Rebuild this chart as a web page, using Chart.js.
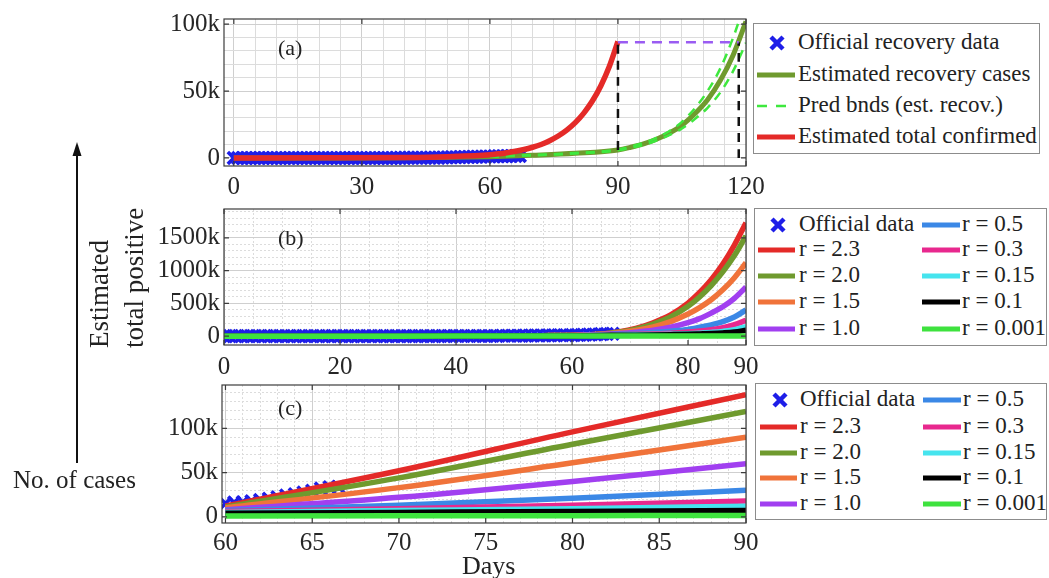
<!DOCTYPE html>
<html>
<head>
<meta charset="utf-8">
<script src="https://cdn.jsdelivr.net/npm/chart.js@4.4.0/dist/chart.umd.min.js"></script>
<style>
  body { margin: 0; background: #fff; width: 1049px; height: 578px; overflow: hidden; position: relative;
         font-family: "Liberation Serif", "Times New Roman", serif; color: #222; }
  canvas { position: absolute; left: 0; }
  .lg { position: absolute; border: 1px solid #8c8c8c; background: #fff; box-sizing: border-box; }
  .txt { position: absolute; white-space: nowrap; line-height: 24px; font-size: 23px; }
  .sw { position: absolute; }
</style>
</head>
<body>
<canvas id="cA"></canvas>
<canvas id="cB"></canvas>
<canvas id="cC"></canvas>
<div id="overlay"></div>
<script>
// ---- panel (a): recovery ----
const aRecovered = [0,0,0,0,0,0,0,0,0,0,0,0,0,0,0,0,0,0,0,0,0,0,0,0,0,0,
  3,3,4,4,10,13,14,20,23,25,40,43,50,75,85,95,102,124,148,169,191,229,267,328,
  401,473,565,653,700,760,820,880,950,1020,1100,1180,1250,1320,1400,1450,1480,1500];
const aConfDays = [0, 20, 40, 50, 60, 62, 64, 66, 68, 70, 72, 74, 76, 78, 80, 82, 84, 86, 88, 90];
const aConfirmed = [0, 100, 400, 1000, 2400, 3100, 3900, 5000, 6300, 8000, 10100, 12900, 16400, 20800,
  26400, 33500, 42500, 54000, 68500, 87000];
const aRecDays = [0, 20, 40, 60, 65, 70, 80, 90, 93, 96, 99, 102, 105, 108, 111, 114, 117, 120];
const aRecEst = [0, 50, 200, 1000, 1400, 2000, 3500, 6000, 8000, 10500, 14000, 18500, 24500, 33000,
  43500, 58000, 77000, 102000];
const aBndDays = [60, 80, 90, 93, 96, 99, 102, 105, 108, 111, 114, 117, 120];
const aBndUpper = [1100, 3700, 6300, 8500, 11200, 15000, 20000, 27000, 37000, 50000, 67000, 90000, 118000];
const aBndLower = [900, 3300, 5700, 7500, 9800, 13000, 17000, 22000, 29000, 37500, 49000, 65000, 86000];
const aLevel = 86500;          // height of the dashed guide lines
const aGuideDays = [90, 118.3]; // days marked by the vertical guides
const aXLabels = [0, 30, 60, 90, 120];
const aYLabels = [0, 50000, 100000];

// ---- panel (b): total positive, whole period ----
const bOfficial = [3,3,3,3,3,3,3,3,3,3,3,3,3,5,6,28,30,31,34,39,43,56,62,73,82,102,113,119,142,156,
  194,244,330,396,499,536,657,727,887,987,1024,1251,1397,1998,2543,2567,3082,3588,4778,5311,
  5916,6725,7598,8446,9205,10453,11487,12322,13430,14352,15500,17000,19500,23000,26500,31000,33500,36000];
const bDays = [0, 20, 40, 55, 60, 65, 68, 71, 74, 77, 80, 82, 84, 86, 88, 90];
const bR23 = [0, 100, 1000, 8000, 12000, 32000, 64000, 118000, 205000, 325000, 505000, 665000, 860000, 1100000, 1390000, 1730000];
const bR20 = [0, 100, 1000, 8000, 11000, 30000, 59000, 108000, 185000, 293000, 455000, 598000, 772000, 980000, 1230000, 1530000];
const bR15 = [0, 100, 1000, 8000, 10000, 28000, 52000, 87000, 141000, 222000, 337000, 435000, 555000, 707000, 892000, 1120000];
const bR10 = [0, 100, 1000, 7000, 8000, 24000, 39000, 60000, 89000, 135000, 205000, 268000, 352000, 448000, 576000, 750000];
const bR05 = [0, 100, 900, 6000, 7000, 19000, 28000, 39000, 54000, 76000, 103000, 135000, 173000, 222000, 292000, 400000];
const bR03 = [0, 100, 800, 5000, 6000, 16000, 22000, 28000, 36000, 46000, 63000, 78000, 100000, 130000, 174000, 240000];
const bR015 = [0, 100, 700, 4000, 5000, 13000, 16000, 19500, 24000, 29000, 38000, 46000, 57000, 72000, 97000, 145000];
const bR01 = [0, 100, 600, 3000, 4000, 11000, 13000, 15000, 18500, 23000, 28500, 34000, 40000, 49000, 63000, 90000];
const bR0001 = [0, 100, 500, 1000, 1000, 1000, 1000, 1000, 1000, 1000, 1000, 1000, 1000, 1000, 1000, 1000];
const bXLabels = [0, 20, 40, 60, 80, 90];
const bYLabels = [0, 500000, 1000000, 1500000];

// ---- panel (c): zoom on days 60-90 ----
const cOffDays = [60, 60.5, 61, 61.5, 62, 62.5, 63, 63.5, 64, 64.5, 65, 65.5, 66, 66.5];
const cOfficial = [15000, 16000, 16500, 17500, 19000, 20500, 22000, 24000, 25500, 27500, 29500, 32000, 33500, 34000];
const cDays = [60, 70, 80, 90];
const cR23 = [12000, 52000, 96000, 138000];
const cR20 = [11000, 44000, 82000, 119000];
const cR15 = [10000, 33000, 61000, 90000];
const cR10 = [8000, 22000, 40000, 60000];
const cR05 = [7000, 13000, 21000, 30000];
const cR03 = [6000, 9000, 13000, 18000];
const cR015 = [5000, 7000, 9000, 12000];
const cR01 = [4000, 5000, 6000, 7000];
const cR0001 = [1000, 1200, 1300, 1500];
const cXLabels = [60, 65, 70, 75, 80, 85, 90];
const cYLabels = [0, 50000, 100000];

const rLabels = ['r = 2.3', 'r = 2.0', 'r = 1.5', 'r = 1.0', 'r = 0.5', 'r = 0.3', 'r = 0.15', 'r = 0.1', 'r = 0.001'];
const rColors = ['#e42a28', '#6f9a2e', '#f0733a', '#a13ff0', '#3b88e6', '#e8288e', '#46e4ee', '#000000', '#3ee23e'];

const BLUE = '#1e1ee8';
const FONT = '"Liberation Serif", "Times New Roman", serif';
Chart.defaults.font.family = FONT;
Chart.defaults.color = '#262626';

const range = (a, b, s) => { const r = []; for (let v = a; v <= b + 1e-9; v += s) r.push(+v.toFixed(3)); return r; };
const pts = (xs, ys) => xs.map((x, i) => ({ x: x, y: ys[i] }));
const fmtK = v => v === 0 ? '0' : (v / 1000) + 'k';

function markers(data) {
  return { data, showLine: false, pointStyle: 'crossRot', pointRadius: 8.5, pointBorderWidth: 3.6,
           borderColor: BLUE, backgroundColor: BLUE };
}
function curve(data, color, width, dash) {
  return { data, borderColor: color, borderWidth: width || 5, pointRadius: 0, borderDash: dash || [],
           cubicInterpolationMode: 'monotone', fill: false };
}

// frame + inward tick marks, MATLAB style
const boxPlugin = {
  id: 'box',
  afterDatasetsDraw(chart) {
    const { ctx, chartArea: a, scales } = chart;
    ctx.save();
    ctx.strokeStyle = '#3c3c3c';
    ctx.lineWidth = 1.2;
    ctx.strokeRect(a.left, a.top, a.right - a.left, a.bottom - a.top);
    ctx.beginPath();
    scales.x.ticks.forEach((t, i) => {
      if (!t.label) return;
      const px = scales.x.getPixelForTick(i);
      ctx.moveTo(px, a.bottom); ctx.lineTo(px, a.bottom - 5);
      ctx.moveTo(px, a.top); ctx.lineTo(px, a.top + 5);
    });
    scales.y.ticks.forEach((t, i) => {
      if (!t.label) return;
      const py = scales.y.getPixelForTick(i);
      ctx.moveTo(a.left, py); ctx.lineTo(a.left + 5, py);
      ctx.moveTo(a.right, py); ctx.lineTo(a.right - 5, py);
    });
    ctx.stroke();
    ctx.restore();
  }
};

const AXW = 70;
function panel(id, canvasTop, canvasH, area, xs, ys, datasets, dotted) {
  const cv = document.getElementById(id);
  cv.width = 1049; cv.height = canvasH;
  cv.style.top = canvasTop + 'px';
  datasets.forEach((d, i) => { d.order = datasets.length - i; });
  const gridOf = (labels) => ({
    color: ctx => (ctx.tick && labels.includes(ctx.tick.value)) ? '#cfcfcf' : '#dcdcdc',
    lineWidth: 1, drawTicks: false
  });
  const borderOf = (labels) => ({
    display: false,
    dash: ctx => (dotted && !(ctx.tick && labels.includes(ctx.tick.value))) ? [2, 2] : []
  });
  return new Chart(cv, {
    type: 'line',
    data: { datasets },
    options: {
      responsive: false, animation: false,
      layout: { padding: { left: area.left - AXW, right: 1049 - area.right, top: area.top - canvasTop, bottom: 0 } },
      plugins: { legend: { display: false }, tooltip: { enabled: false } },
      scales: {
        x: {
          type: 'linear', min: xs.min, max: xs.max,
          afterBuildTicks: s => { s.ticks = xs.grid.map(v => ({ value: v })); },
          afterFit: s => { s.height = canvasTop + canvasH - area.bottom; },
          ticks: { autoSkip: false, maxRotation: 0, padding: area.pad || 5, font: { size: 25 },
                   callback: v => xs.labels.includes(v) ? String(v) : '' },
          grid: gridOf(xs.labels), border: borderOf(xs.labels)
        },
        y: {
          type: 'linear', min: ys.min, max: ys.max,
          afterBuildTicks: s => { s.ticks = ys.grid.map(v => ({ value: v })); },
          afterFit: s => { s.width = AXW; },
          ticks: { autoSkip: false, padding: 4, font: { size: 25 },
                   callback: v => ys.labels.includes(v) ? fmtK(v) : '' },
          grid: gridOf(ys.labels), border: borderOf(ys.labels)
        }
      }
    },
    plugins: [boxPlugin]
  });
}

// panel (a)
const aDays = aRecovered.map((_, i) => i);
panel('cA', 0, 195, { left: 224, right: 746, top: 19, bottom: 166, pad: 6 },
  { min: -2.3, max: 120, grid: range(0, 120, 5), labels: aXLabels },
  { min: -6000, max: 103800, grid: range(0, 100000, 10000), labels: aYLabels },
  [
    markers(pts(aDays, aRecovered)),
    curve(pts(aRecDays, aRecEst), '#6f9a2e', 5),
    curve(pts(aBndDays, aBndUpper), '#3ee83e', 2.5, [9, 7]),
    curve(pts(aBndDays, aBndLower), '#3ee83e', 2.5, [9, 7]),
    curve(pts(aConfDays, aConfirmed), '#e42a28', 5.5),
    curve([{ x: aGuideDays[0], y: 6000 }, { x: aGuideDays[0], y: aLevel }], '#111', 2.5, [9, 7]),
    curve([{ x: aGuideDays[1], y: 0 }, { x: aGuideDays[1], y: aLevel }], '#111', 2.5, [9, 7]),
    curve([{ x: aGuideDays[0], y: aLevel }, { x: aGuideDays[1], y: aLevel }], '#9a5cf2', 2.5, [10, 7])
  ], false);

// panel (b)
const bOffDays = bOfficial.map((_, i) => i);
const bSeries = [bR23, bR20, bR15, bR10, bR05, bR03, bR015, bR01, bR0001];
panel('cB', 190, 192, { left: 224, right: 746, top: 208, bottom: 345, pad: 7 },
  { min: 0, max: 90, grid: range(0, 90, 5), labels: bXLabels },
  { min: -135000, max: 1940000, grid: range(0, 1900000, 100000), labels: bYLabels },
  [markers(pts(bOffDays, bOfficial))].concat(bSeries.map((s, i) => curve(pts(bDays, s), rColors[i], 5.5))),
  true);

// panel (c)
const cSeries = [cR23, cR20, cR15, cR10, cR05, cR03, cR015, cR01, cR0001];
panel('cC', 360, 192, { left: 222, right: 746, top: 385, bottom: 523, pad: 5 },
  { min: 59.8, max: 90, grid: range(60, 90, 1), labels: cXLabels },
  { min: -7000, max: 149000, grid: range(0, 140000, 10000), labels: cYLabels },
  [markers(pts(cOffDays, cOfficial))].concat(cSeries.map((s, i) => curve(pts(cDays, s), rColors[i], 5.5))),
  true);

// ---- legends and annotations (HTML) ----
const ov = document.getElementById('overlay');
function el(tag, cls, style, html) {
  const e = document.createElement(tag);
  if (cls) e.className = cls;
  Object.assign(e.style, style);
  if (html !== undefined) e.innerHTML = html;
  ov.appendChild(e);
  return e;
}
function swatch(x0, x1, y, kind, color) {
  const w = x1 - x0;
  let inner;
  if (kind === 'marker') {
    const c = w / 2;
    inner = `<line x1="${c-6}" y1="4" x2="${c+6}" y2="16" stroke="${color}" stroke-width="4.5"/>` +
            `<line x1="${c-6}" y1="16" x2="${c+6}" y2="4" stroke="${color}" stroke-width="4.5"/>`;
  } else if (kind === 'dash') {
    inner = `<line x1="0" y1="10" x2="${w}" y2="10" stroke="${color}" stroke-width="2.5" stroke-dasharray="10 9"/>`;
  } else {
    inner = `<line x1="0" y1="10" x2="${w}" y2="10" stroke="${color}" stroke-width="5"/>`;
  }
  el('div', 'sw', { left: x0 + 'px', top: (y - 10) + 'px', width: w + 'px', height: '20px' },
     `<svg width="${w}" height="20">${inner}</svg>`);
}
function legendItem(x0, x1, tx, y, kind, color, text) {
  swatch(x0, x1, y, kind, color);
  el('div', 'txt', { left: tx + 'px', top: (y - 13) + 'px' }, text);
}

// legend (a)
el('div', 'lg', { left: '753px', top: '23px', width: '287px', height: '131px' });
legendItem(757, 797, 798, 43, 'marker', BLUE, 'Official recovery data');
legendItem(757, 795, 798, 75, 'line', '#6f9a2e', 'Estimated recovery cases');
legendItem(757, 795, 798, 106, 'dash', '#3ee83e', 'Pred bnds (est. recov.)');
legendItem(757, 795, 798, 137, 'line', '#e42a28', 'Estimated total confirmed');

// legends (b) and (c): two columns
function rLegend(box, rowsY, sx, tx) {
  el('div', 'lg', { left: box[0] + 'px', top: box[1] + 'px', width: box[2] + 'px', height: box[3] + 'px' });
  legendItem(sx[0], sx[0] + 40, tx[0], rowsY[0], 'marker', BLUE, 'Official data');
  for (let i = 0; i < 4; i++) legendItem(sx[0], sx[0] + 37, tx[0], rowsY[i + 1], 'line', rColors[i], rLabels[i]);
  for (let i = 4; i < 9; i++) legendItem(sx[1], sx[1] + 38, tx[1], rowsY[i - 4], 'line', rColors[i], rLabels[i]);
}
rLegend([754, 208, 293, 138], [225, 250, 276, 302, 329], [758, 922], [799, 962]);
rLegend([755, 383, 292, 137], [400, 427, 453, 478, 504], [760, 923], [800, 963]);

// panel tags
el('div', 'txt', { left: '278px', top: '36px', fontSize: '22px' }, '(a)');
el('div', 'txt', { left: '278px', top: '226px', fontSize: '22px' }, '(b)');
el('div', 'txt', { left: '278px', top: '396px', fontSize: '22px' }, '(c)');

// side annotation
el('div', '', { position: 'absolute', left: '0', top: '0' },
  '<svg width="160" height="578" style="position:absolute;left:0;top:0">' +
  '<line x1="77" y1="463" x2="77" y2="152" stroke="#111" stroke-width="2"/>' +
  '<polygon points="77,142 72.5,156 81.5,156" fill="#111"/></svg>');
el('div', 'txt', { left: '13px', top: '466px', fontSize: '25px', lineHeight: '28px' }, 'No. of cases');
el('div', '', { position: 'absolute', left: '82px', top: '348px', transform: 'rotate(-90deg)', transformOrigin: '0 0',
  fontSize: '27px', lineHeight: '35px', whiteSpace: 'pre' }, 'Estimated\ntotal positive');
el('div', 'txt', { left: '462px', top: '551px', fontSize: '26px', lineHeight: '30px' }, 'Days');
</script>
</body>
</html>
